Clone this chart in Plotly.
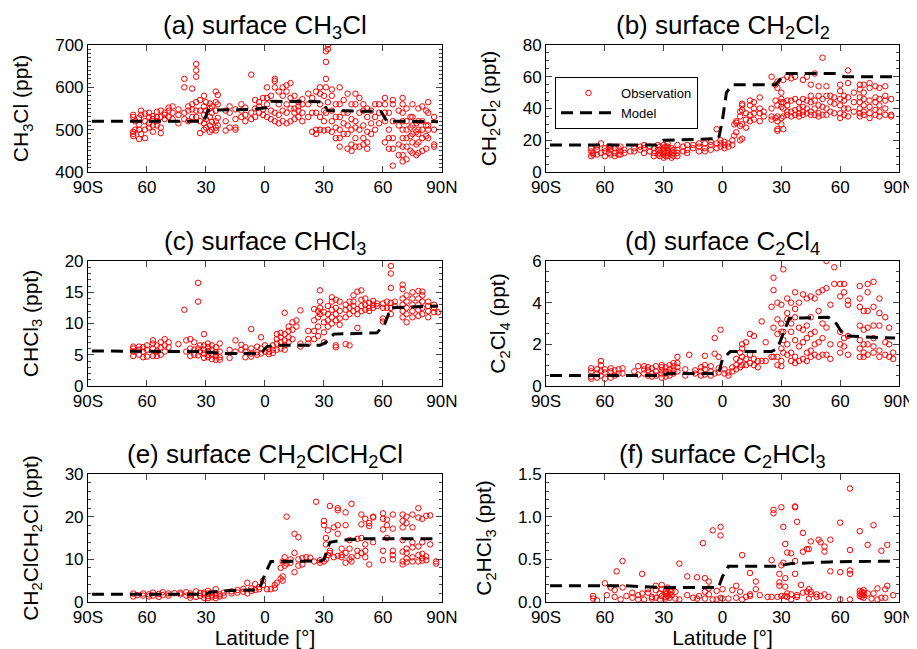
import plotly.graph_objects as go
from plotly.subplots import make_subplots

# Latitude tick labels
lat_ticks = [-90, -60, -30, 0, 30, 60, 90]
lat_labels = ["90S", "60", "30", "0", "30", "60", "90N"]

# Observations, grouped as (latitude, [values at that latitude])
obs_ch3cl = [
    (-67, [490, 495, 485, 530, 535]), (-66, [500, 520]), (-64, [478, 500, 512, 528]),
    (-63, [490, 545, 535]), (-61, [480, 500, 520, 538]), (-59, [505, 515, 530, 540]),
    (-57, [495, 510, 525, 532]), (-55, [510, 520, 530, 542]), (-53, [492, 505, 530, 545]),
    (-51, [525, 535, 540]), (-49, [530, 545, 552]), (-47, [525, 540, 555]),
    (-44, [515, 535, 548]), (-41, [600, 620, 540, 525]), (-39, [520, 545, 555]),
    (-37, [597, 530, 548, 560]), (-35, [625, 640, 655, 545, 565, 530]),
    (-33, [492, 520, 545, 570]), (-31, [500, 515, 535, 555, 580]), (-30, [505, 525, 545, 565]),
    (-28, [495, 510, 530, 550, 562]), (-27, [500, 518, 540, 555]),
    (-25, [498, 505, 520, 545, 565, 590]), (-24, [510, 528, 560, 582]),
    (-20, [498, 520, 545]), (-18, [505, 540, 555]), (-15, [500, 505, 525, 548]),
    (-12, [530, 545, 560]), (-10, [520, 535, 552]), (-7, [525, 540, 630]),
    (-5, [530, 550, 570]), (-3, [540, 555, 565]), (-1, [535, 548, 575]),
    (1, [530, 560, 575, 600]), (3, [525, 545, 580]), (5, [520, 540, 600, 620, 615]),
    (7, [515, 535, 560, 590]), (9, [520, 545, 580, 600]), (11, [515, 540, 560, 590, 605]),
    (13, [520, 550, 575, 610]), (15, [525, 540, 550, 580]), (17, [530, 545, 555, 565]),
    (19, [520, 540, 560, 572]), (22, [530, 560, 585]), (24, [495, 540, 575]),
    (26, [490, 500, 540, 590]), (28, [500, 530, 560, 585, 600]), (30, [498, 520, 545, 580]),
    (31, [660, 685, 540, 600, 620]), (32, [690, 700, 500, 565]), (34, [495, 520, 545, 580, 595]),
    (36, [480, 505, 530, 560]), (38, [460, 480, 500, 530, 560, 600]), (40, [490, 515, 540, 570]),
    (42, [455, 490, 510, 540, 585]), (44, [450, 465, 500, 525, 560]),
    (46, [460, 480, 505, 520, 560, 585]), (48, [460, 500, 540, 575]),
    (50, [465, 480, 510, 545, 560]), (52, [455, 470, 495, 530, 550]), (54, [490, 515, 545]),
    (56, [500, 530, 560]), (58, [515, 540, 560]), (61, [470, 520, 540, 560, 575]),
    (63, [455, 480, 500, 540]), (65, [415, 455, 480, 520, 560, 570]), (68, [440, 465, 510, 545]),
    (70, [425, 440, 460, 480, 500, 520, 540, 560, 575]), (72, [430, 460, 480, 500, 520, 550]),
    (74, [450, 485, 505, 530]), (75, [445, 470, 490, 510, 530, 560]), (77, [440, 465, 495, 515]),
    (78, [445, 470, 490, 500, 520, 550]), (80, [450, 480, 500, 520, 555]),
    (82, [455, 485, 510, 545]), (83, [480, 500, 510, 540, 565]), (86, [460, 465, 500, 530]),
]
obs_ch2cl2 = [
    (-67, [10, 13, 15]), (-66, [11, 12]), (-64, [11, 14, 16]), (-62, [12, 18]),
    (-60, [10, 13, 15]), (-58, [12, 16]), (-57, [11, 14, 16]), (-55, [10, 12, 15]),
    (-53, [11, 15]), (-52, [11, 13, 16]), (-50, [12, 14]), (-47, [13]), (-45, [13, 15]),
    (-42, [14, 16]), (-40, [12, 15, 17]), (-37, [13, 16]), (-35, [10, 12, 15]),
    (-33, [11, 14, 17]), (-32, [10, 12, 14, 16]), (-30, [9, 11, 13, 15, 17]), (-29, [10, 12, 16]),
    (-28, [10, 12, 14, 16, 18]), (-26, [9, 11, 13, 15]), (-25, [10, 12, 14]),
    (-23, [10, 12, 14, 17]), (-20, [13, 16]), (-18, [12, 14, 17]), (-15, [15, 17]),
    (-12, [13, 16, 18]), (-9, [13, 15, 18]), (-6, [14, 17, 19]), (-3, [15, 18, 27]),
    (-1, [16, 18, 20]), (1, [15, 17, 19]), (3, [16, 18]), (5, [17, 20]), (6, [23, 30]),
    (7, [25, 32, 31]), (9, [20, 29, 35, 38]), (10, [21, 30, 39, 43, 42]), (12, [28, 33, 37]),
    (14, [32, 36, 42, 45]), (16, [33, 37, 40, 44]), (19, [32, 37, 40, 47]), (21, [38, 35]),
    (25, [33, 35, 40, 60]), (27, [34, 45, 55]), (28, [27, 26, 32, 35, 42, 53, 57]),
    (30, [30, 34, 41, 44, 46, 50]), (31, [27, 35, 40, 44, 58]), (33, [36, 38, 42, 45, 60]),
    (35, [35, 38, 45, 59]), (37, [36, 39, 46, 60]), (39, [35, 37, 40, 44]),
    (41, [36, 38, 41, 46, 58]), (43, [37, 40, 45, 60]), (45, [36, 38, 44, 48, 55]),
    (47, [36, 40, 45, 62]), (49, [35, 37, 42, 48, 54]), (51, [36, 41, 46, 72]),
    (53, [36, 40, 48, 54]), (55, [38, 44, 48]), (57, [37, 43, 47]),
    (60, [34, 37, 42, 46, 51, 55]), (62, [36, 40, 45, 48]), (64, [35, 40, 47, 56, 64]),
    (67, [38, 44, 50]), (70, [35, 37, 40, 44, 47, 52, 55]), (72, [36, 38, 42, 46, 50, 55]),
    (75, [34, 37, 41, 45, 53, 56]), (78, [36, 39, 44, 47, 54]), (80, [35, 38, 42, 46, 53]),
    (83, [36, 40, 45, 48, 54]), (86, [36, 35, 46]),
]
obs_chcl3 = [
    (-67, [4.8, 5.5, 6.0, 6.3]), (-64, [5.0, 5.8, 6.3]), (-62, [4.6, 5.5, 6.2]),
    (-60, [4.7, 5.8, 6.5]), (-57, [4.8, 6.0, 6.8, 7.3]), (-55, [4.8, 5.5, 6.5]),
    (-53, [5.0, 6.2, 7.0]), (-51, [5.5, 6.5, 7.5]), (-49, [6.2, 7.0]), (-44, [6.7]),
    (-41, [12.2]), (-40, [5.5, 7.3]), (-38, [4.8, 6.0, 7.5]), (-36, [5.0, 5.8, 7.0]),
    (-34, [13.5, 16.5, 4.9, 6.0]), (-33, [5.5, 6.5]), (-31, [4.5, 5.2, 5.8, 6.5, 8.3]),
    (-29, [4.6, 5.0, 5.6, 6.2, 6.8]), (-27, [4.3, 5.0, 5.8, 6.5]), (-25, [4.2, 4.8, 5.4, 6.2]),
    (-23, [4.2, 4.6, 5.5, 6.8]), (-18, [4.5, 5.8]), (-15, [5.5, 7.3]), (-12, [5.8, 6.6]),
    (-10, [4.6, 5.5, 6.2]), (-7, [4.7, 5.2, 6.0, 9.1]), (-4, [5.0, 5.4, 6.3]),
    (-2, [5.2, 6.0, 7.8]), (0, [5.5, 6.5]), (2, [5.1, 5.5, 6.0]), (4, [5.3, 5.8, 6.5]),
    (6, [5.8, 6.8, 7.5, 8.3]), (8, [6.0, 7.0, 7.8, 8.5]), (10, [5.8, 6.5, 7.3, 8.3, 11.7]),
    (12, [7.0, 7.8, 8.8, 9.5]), (14, [7.5, 9.0, 10.2]), (16, [9.5, 10.5]),
    (18, [6.3, 6.8, 12.1]), (22, [6.8, 7.5, 8.8]), (25, [7.5, 8.8, 10.5, 12.3]),
    (27, [8.0, 9.5, 11.0, 12.0]), (28, [11.5, 12.5, 13.5, 15.3]), (30, [7.0, 8.6, 10.2, 11.8]),
    (32, [9.5, 10.5, 11.5, 12.8]), (34, [10.0, 11.0, 12.2, 13.5, 14.2]),
    (36, [6.2, 6.5, 10.5, 11.5, 12.5, 13.8]), (38, [9.8, 10.8, 12.0, 13.5]),
    (41, [6.7, 11.0, 12.2, 13.0]), (43, [6.5, 11.5, 12.5, 13.5]), (45, [12.0, 12.8, 13.5, 14.5]),
    (47, [9.3, 11.5, 12.3, 15.1]), (49, [12.0, 12.8, 13.8, 15.3]), (51, [12.2, 13.0, 14.0]),
    (53, [12.5, 13.3, 12.0]), (55, [12.5, 13.0, 13.6]), (57, [12.8, 13.2]),
    (60, [10.3, 10.8, 12.5, 13.2]), (62, [12.5, 13.5]), (64, [11.5, 12.5, 13.3, 15.7, 18.0, 19.2]),
    (66, [12.8, 13.5]), (70, [11.0, 12.0, 13.0, 14.0, 15.5, 16.2]),
    (72, [10.2, 11.5, 12.5, 13.5, 14.5]), (75, [11.0, 12.0, 13.0, 14.0, 15.0]),
    (78, [11.2, 12.2, 13.0, 14.0, 15.2]), (80, [11.5, 12.5, 13.5, 14.5, 15.1]),
    (83, [11.0, 12.0, 12.8, 13.5]), (86, [11.8, 12.5, 13.0]), (88, [11.8]),
]
obs_c2cl4 = [
    (-67, [0.35, 0.45, 0.7, 0.85]), (-64, [0.4, 0.6, 0.8]), (-62, [0.5, 0.7, 1.0, 1.2]),
    (-60, [0.35, 0.65, 0.8]), (-57, [0.4, 0.7, 0.85]), (-55, [0.5, 0.75]), (-53, [0.6, 0.8]),
    (-51, [0.6, 0.85]), (-45, [0.7]), (-43, [0.55, 0.95]), (-40, [0.6, 0.8, 0.95]),
    (-38, [0.5, 0.75, 0.9]), (-36, [0.45, 0.6, 0.85]), (-34, [0.5, 0.7, 0.95]),
    (-31, [0.4, 0.6, 0.75, 0.9, 1.0]), (-29, [0.45, 0.6, 0.7, 0.9]), (-27, [0.5, 0.65, 0.8, 1.0]),
    (-25, [0.6, 0.75, 0.95, 1.1]), (-23, [0.7, 0.9, 1.4, 1.1]), (-19, [0.5, 0.8]), (-17, [1.5]),
    (-14, [0.6, 0.75]), (-11, [0.5, 0.7, 0.9]), (-9, [0.55, 0.8, 1.0, 1.45]),
    (-6, [0.5, 0.7, 0.95]), (-4, [0.6, 2.3, 1.55]), (-2, [0.65, 0.85, 1.4]), (-1, [2.7]),
    (1, [0.6, 0.8]), (3, [0.5, 0.65]), (5, [0.7, 0.9]), (7, [0.8, 1.0, 1.3]),
    (9, [0.9, 1.2, 1.6]), (10, [1.0, 1.4, 1.8, 2.0]), (12, [1.0, 1.3, 2.1]),
    (14, [1.1, 1.5, 2.5]), (16, [1.0, 1.3, 2.4]), (18, [0.9, 1.2]), (20, [1.2, 3.1]),
    (22, [1.2, 2.1]), (25, [1.4, 3.8]), (26, [1.4, 2.8, 4.6, 5.2]), (28, [1.0, 1.4, 2.5, 3.2, 4.0]),
    (30, [0.95, 1.2, 1.8, 2.6, 3.0, 3.9]), (31, [1.6, 2.2, 2.6, 5.6]),
    (33, [1.5, 2.0, 3.2, 3.5, 4.2]), (35, [1.2, 1.6, 2.6, 3.0, 4.0]),
    (37, [1.1, 1.4, 2.2, 3.3, 3.7, 4.5]), (39, [1.2, 1.9, 2.8, 4.0]), (41, [1.3, 2.1, 2.7, 4.4]),
    (43, [1.2, 1.6, 2.3, 2.9, 4.2]), (45, [1.4, 1.7, 2.5, 3.3, 4.3]), (47, [1.5, 2.0, 2.6, 4.2]),
    (49, [1.4, 2.1, 3.6, 4.5]), (51, [1.5, 2.3, 3.0, 4.6]), (53, [1.5, 2.8, 4.7, 6.0]),
    (55, [1.3, 2.0, 3.9]), (57, [4.9, 5.7]), (60, [1.6, 2.0, 2.6, 4.9, 4.3]),
    (62, [1.9, 2.3, 4.5, 4.9]), (64, [1.5, 2.4, 3.9, 4.1]),
    (70, [1.4, 1.8, 2.2, 2.9, 3.8, 4.2, 4.8]), (72, [1.4, 1.6, 2.0, 2.7, 3.6]),
    (74, [1.5, 2.0, 2.8, 3.6, 4.5, 4.9]), (77, [1.6, 1.9, 2.3, 2.9, 3.8, 5.0]),
    (80, [1.4, 1.7, 2.9, 3.5, 4.2]), (83, [1.5, 2.1, 3.3]), (85, [1.4, 2.0, 2.8]), (87, [1.3, 1.6]),
]
obs_ch2clch2cl = [
    (-67, [1.3, 2.0]), (-65, [1.6]), (-62, [1.5, 2.0]), (-59, [1.3, 1.8]), (-57, [1.5, 2.2]),
    (-54, [1.2, 1.9]), (-52, [1.6, 2.3]), (-49, [1.5, 2.0]), (-46, [2.1]), (-43, [1.8, 2.2]),
    (-40, [1.5, 2.3]), (-38, [1.0, 1.6, 2.0]), (-35, [1.2, 2.5]), (-33, [1.4, 2.1]),
    (-31, [1.0, 1.8, 2.2]), (-29, [0.9, 1.4, 2.0, 2.6]), (-27, [1.1, 1.6, 2.2]),
    (-25, [0.9, 1.5, 2.0, 3.0]), (-23, [1.3, 1.8]), (-21, [1.5, 2.2]), (-17, [2.0, 2.5]),
    (-14, [2.2, 2.8]), (-11, [2.4, 3.1]), (-9, [2.0, 4.5]), (-7, [2.6, 3.2]), (-5, [2.8, 4.2]),
    (-3, [3.0, 3.5]), (-1, [4.0, 5.0]), (1, [3.0]), (3, [3.0]), (5, [3.2, 4.0]), (6, [4.5]),
    (8, [5.5, 8.0]), (9, [5.0, 6.0, 9.5]), (10, [8.5, 10.5]), (11, [20.0, 9.0]),
    (13, [9.2, 10.0]), (15, [7.0, 11.5, 16.0]), (17, [8.5, 15.2, 10.0]), (19, [8.8, 10.3]),
    (21, [10.5]), (23, [10.4]), (25, [9.5]), (26, [23.5]), (28, [9.2, 9.8]),
    (30, [9.5, 19.0, 18.0]), (31, [10.0, 15.0, 13.5]), (32, [16.8, 11.0]),
    (33, [22.5, 11.5, 12.0]), (35, [10.5, 17.5]), (37, [10.8, 16.0, 18.0, 21.5, 22.0]),
    (39, [10.5, 11.0, 12.5]), (41, [9.2, 11.5, 21.0, 18.0]), (43, [10.0, 12.5, 14.5]),
    (44, [23.0, 10.5, 9.5]), (47, [10.8, 12.0, 14.8]), (49, [11.5, 18.2, 20.5, 15.0]),
    (51, [10.5, 13.5, 12.0, 19.5]), (53, [8.8, 18.5, 17.8]), (55, [14.0, 19.8, 20.0]),
    (60, [9.8, 12.0, 17.0, 19.5, 20.8]), (62, [15.0, 18.0, 19.3]),
    (65, [10.0, 11.0, 12.0, 17.2, 20.5]), (70, [8.8, 9.5, 11.8, 14.5, 17.5, 20.5, 19.0]),
    (72, [9.3, 10.2, 11.5, 12.5, 18.5, 20.0]), (75, [9.5, 10.5, 12.8, 14.0, 17.5, 20.5]),
    (78, [9.5, 11.0, 13.0, 19.8, 22.0]), (80, [9.7, 10.3, 11.3, 14.0, 19.5]),
    (82, [9.8, 10.7, 20.2]), (84, [13.5, 20.3]), (87, [9.5, 9.0]),
]
obs_c2hcl3 = [
    (-66, [0.07, 0.04]), (-64, [0.02]), (-60, [0.22]), (-59, [0.08]), (-57, [0.17]),
    (-55, [0.14, 0.06]), (-54, [0.36]), (-52, [0.03]), (-51, [0.17, 0.48]), (-49, [0.07]),
    (-46, [0.05, 0.11]), (-43, [0.03, 0.08]), (-41, [0.1, 0.33]), (-40, [0.03]),
    (-38, [0.15, 0.11]), (-36, [0.04, 0.06]), (-34, [0.05, 0.19, 0.14]), (-32, [0.03, 0.1]),
    (-31, [0.07, 0.2, 0.15]), (-29, [0.06, 0.09, 0.13, 0.04]), (-28, [0.07, 0.11, 0.17]),
    (-27, [0.05, 0.09, 0.14]), (-26, [0.08, 0.12]), (-24, [0.04, 0.12]), (-22, [0.03, 0.45]),
    (-18, [0.08, 0.3]), (-15, [0.05]), (-13, [0.04, 0.29]), (-12, [0.07]), (-10, [0.69]),
    (-9, [0.04, 0.28, 0.12]), (-7, [0.09, 0.24, 0.16]), (-5, [0.84, 0.03]), (-3, [0.03, 0.13]),
    (-1, [0.88, 0.78, 0.05]), (0, [0.15, 0.04]), (3, [0.04]), (5, [0.14]), (7, [0.19, 0.05]),
    (9, [0.12]), (10, [0.55, 0.03]), (12, [0.06]), (14, [0.34, 0.09, 0.07]), (17, [0.24, 0.15]),
    (19, [0.08]), (23, [0.06]), (25, [0.49, 0.06]), (26, [1.08, 1.04]), (28, [0.06]),
    (29, [0.23, 0.19, 0.33]), (30, [1.11, 0.07, 0.43]), (31, [0.88, 0.46]),
    (32, [0.68, 0.28, 0.18, 0.07]), (33, [0.58, 0.06, 0.1]), (35, [0.57, 0.03, 0.09]),
    (37, [1.12, 1.11, 0.48, 0.33]), (38, [0.94, 0.08, 0.06]), (40, [0.2]), (41, [0.59, 0.81, 0.11]),
    (43, [0.12, 0.62]), (44, [0.04, 0.15, 0.62]), (45, [0.71, 0.09, 0.12]), (48, [0.06, 0.09]),
    (49, [0.73]), (50, [0.7, 0.07]), (52, [0.09, 0.59, 0.65]), (54, [0.06]), (55, [0.36, 0.73]),
    (60, [0.93, 0.35, 0.03]), (65, [1.33, 0.61, 0.37, 0.33, 0.03]), (70, [0.07, 0.1, 0.13, 0.83]),
    (71, [0.06, 0.09, 0.12]), (72, [0.05, 0.08, 0.11, 0.14]), (74, [0.67, 0.1]), (76, [0.04]),
    (77, [0.9, 0.1]), (79, [0.16, 0.03]), (81, [0.6, 0.05]), (83, [0.05, 0.15]),
    (84, [0.19, 0.67]), (87, [0.08]),
]

# Model zonal means
mod_ch3cl_lat = [-88, -31, -29, -5, -3, 1, 3, 29, 32, 59, 62, 88]
mod_ch3cl = [520, 520, 546, 548, 550, 552, 567, 566, 545, 543, 520, 519]
mod_ch2cl2_lat = [-88, -34, -30, -2, 0, 2, 5, 27, 32, 58, 62, 88]
mod_ch2cl2 = [17, 17, 20, 21, 33, 50, 55, 55, 62, 62, 60, 60]
mod_chcl3_lat = [-88, -32, -20, -2, 1, 5, 28, 31, 35, 57, 61, 64, 88]
mod_chcl3 = [5.6, 5.5, 5.2, 5.2, 6.3, 6.5, 6.5, 7.0, 8.3, 8.5, 10.0, 12.5, 12.8]
mod_c2cl4_lat = [-88, -31, -28, -2, 0, 4, 25, 28, 34, 54, 58, 62, 88]
mod_c2cl4 = [0.5, 0.5, 0.6, 0.6, 1.3, 1.65, 1.65, 1.8, 3.25, 3.3, 3.0, 2.4, 2.3]
mod_ch2clch2cl_lat = [-88, -30, -28, -18, -3, 0, 3, 28, 30, 33, 40, 50, 88]
mod_ch2clch2cl = [1.8, 1.8, 2.3, 2.7, 2.8, 6.5, 9.5, 9.6, 10.0, 14.0, 14.5, 14.8, 14.8]
mod_c2hcl3_lat = [-88, -50, -30, -2, 0, 3, 28, 35, 55, 88]
mod_c2hcl3 = [0.19, 0.19, 0.17, 0.17, 0.3, 0.42, 0.42, 0.45, 0.47, 0.48]

panels = [
    ("(a) surface CH<sub>3</sub>Cl", "CH<sub>3</sub>Cl (ppt)", obs_ch3cl, mod_ch3cl_lat, mod_ch3cl, [400, 700], 100, 10, None),
    ("(b) surface CH<sub>2</sub>Cl<sub>2</sub>", "CH<sub>2</sub>Cl<sub>2</sub> (ppt)", obs_ch2cl2, mod_ch2cl2_lat, mod_ch2cl2, [0, 80], 20, 5, None),
    ("(c) surface CHCl<sub>3</sub>", "CHCl<sub>3</sub> (ppt)", obs_chcl3, mod_chcl3_lat, mod_chcl3, [0, 20], 5, 1, None),
    ("(d) surface C<sub>2</sub>Cl<sub>4</sub>", "C<sub>2</sub>Cl<sub>4</sub> (ppt)", obs_c2cl4, mod_c2cl4_lat, mod_c2cl4, [0, 6], 2, 0.5, None),
    ("(e) surface CH<sub>2</sub>ClCH<sub>2</sub>Cl", "CH<sub>2</sub>ClCH<sub>2</sub>Cl (ppt)", obs_ch2clch2cl, mod_ch2clch2cl_lat, mod_ch2clch2cl, [0, 30], 10, 2, None),
    ("(f) surface C<sub>2</sub>HCl<sub>3</sub>", "C<sub>2</sub>HCl<sub>3</sub> (ppt)", obs_c2hcl3, mod_c2hcl3_lat, mod_c2hcl3, [0, 1.5], 0.5, 0.1, ".1f"),
]


def expand(groups):
    xs, ys = [], []
    for la, vals in groups:
        for v in vals:
            xs.append(la)
            ys.append(v)
    return xs, ys


fig = make_subplots(rows=3, cols=2)

# page body adds an 8px offset, so the figure is 909x641 and domains are set for that
x_domains = [[0.0880, 0.4774], [0.5919, 0.9802]]
y_domains = [[0.7441, 0.9423], [0.4103, 0.6053], [0.0733, 0.2730]]

for i, (title, ytitle, obs, mlat, mval, yrange, dtick, minor, fmt) in enumerate(panels):
    row, col = i // 2 + 1, i % 2 + 1
    ox, oy = expand(obs)
    fig.add_trace(go.Scatter(
        x=ox, y=oy, mode="markers", name="Observation",
        marker=dict(symbol="circle-open", size=5.5, color="red", line=dict(width=1, color="red")),
        showlegend=(i == 1)), row=row, col=col)
    fig.add_trace(go.Scatter(
        x=mlat, y=mval, mode="lines", name="Model",
        line=dict(color="black", width=3, dash="12px,7px"),
        showlegend=(i == 1)), row=row, col=col)

    xd = x_domains[col - 1]
    yd = y_domains[row - 1]
    fig.update_xaxes(
        domain=xd, range=[-90, 90], tickvals=lat_ticks, ticktext=lat_labels,
        ticks="inside", ticklen=6, showline=True, linecolor="black", linewidth=1,
        mirror="ticks", showgrid=False, zeroline=False, automargin=False,
        tickfont=dict(size=17, color="black"), row=row, col=col)
    fig.update_yaxes(
        domain=yd, range=yrange, dtick=dtick, tickformat=fmt,
        ticks="inside", ticklen=6, showline=True, linecolor="black", linewidth=1,
        mirror="ticks", showgrid=False, zeroline=False, automargin=False,
        minor=dict(dtick=minor, ticks="inside", ticklen=3, showgrid=False),
        tickfont=dict(size=17, color="black"),
        title=dict(text=ytitle, font=dict(size=21, color="black"), standoff=20),
        row=row, col=col)
    if row == 3:
        fig.update_xaxes(title=dict(text="Latitude [°]", font=dict(size=21, color="black"), standoff=5),
                         row=row, col=col)

    fig.add_annotation(
        text=title, xref="paper", yref="paper", x=(xd[0] + xd[1]) / 2, y=yd[1],
        xanchor="center", yanchor="bottom", showarrow=False, yshift=0,
        font=dict(size=26, color="black"))

fig.update_layout(
    width=909, height=641,
    margin=dict(l=0, r=0, t=0, b=0),
    paper_bgcolor="white", plot_bgcolor="white",
    font=dict(family="Liberation Sans, Arial, sans-serif", color="black"),
    legend=dict(x=0.6018, y=0.8924, xanchor="left", yanchor="top",
                bgcolor="white", bordercolor="black", borderwidth=1,
                itemwidth=55, font=dict(size=13, color="black"), tracegroupgap=0),
)

fig.write_html("out.html")
